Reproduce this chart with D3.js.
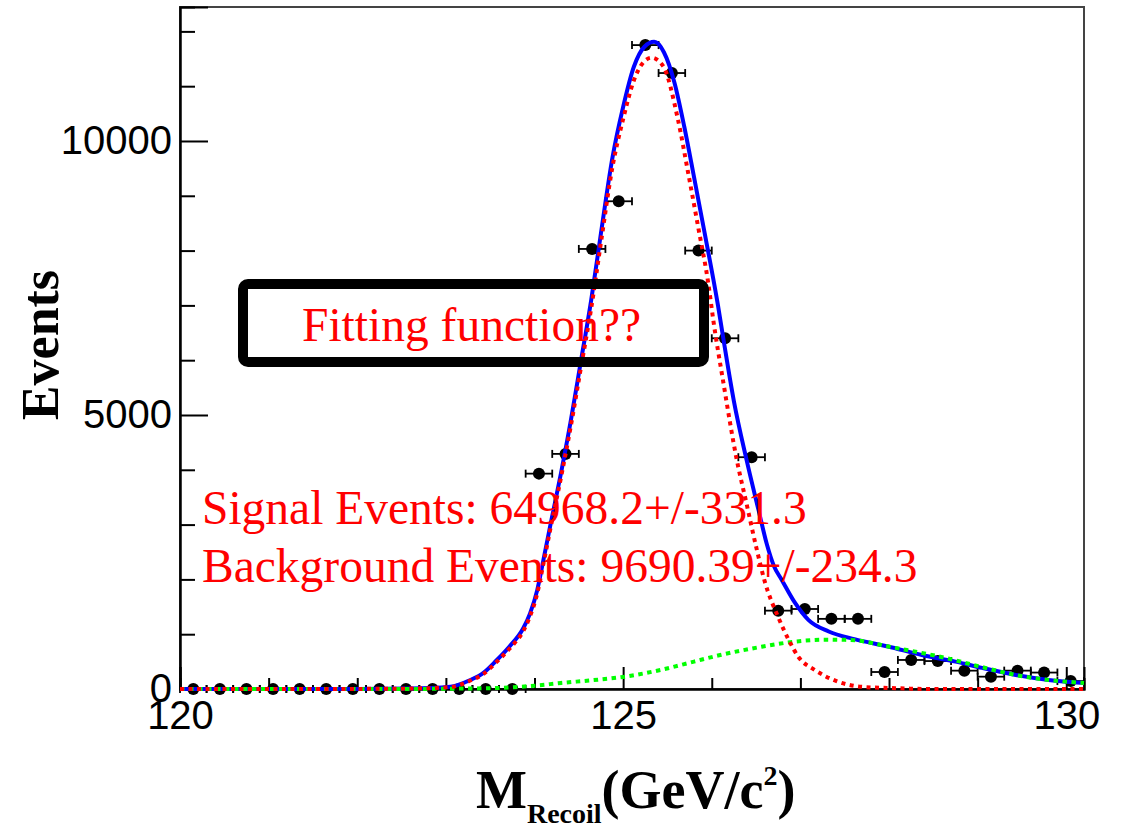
<!DOCTYPE html>
<html lang="en">
<head>
<meta charset="utf-8">
<title>Recoil mass fit</title>
<script src="https://d3js.org/d3.v7.min.js"></script>
<style>
  body { margin: 0; background: #fff; }
</style>
</head>
<body>
<script>
// histogram: bin centres (GeV), half bin width, counts
var binCenters = [120.15, 120.45, 120.75, 121.05, 121.35, 121.65, 121.95, 122.25, 122.55, 122.85,
                  123.15, 123.45, 123.75, 124.05, 124.35, 124.65, 124.95, 125.25, 125.55, 125.85,
                  126.15, 126.45, 126.75, 127.05, 127.35, 127.65, 127.95, 128.25, 128.55, 128.85,
                  129.15, 129.45, 129.75, 130.05];
var binHalfWidth = 0.15;
var counts = [0, 0, 0, 0, 0, 0, 0, 0, 0, 0,
              0, 0, 0, 3930, 4290, 8030, 8900, 11750, 11240, 8000,
              6400, 4230, 1430, 1460, 1280, 1280, 310, 530, 510, 335,
              225, 335, 300, 145];

// fit curves
var totalX = [120, 121, 122, 122.6, 123.05, 123.27, 123.42, 123.57, 123.72, 123.87, 123.95, 124.03, 124.1, 124.18,
              124.3, 124.41, 124.52, 124.64, 124.75, 124.88, 125.0, 125.12, 125.24, 125.35, 125.46, 125.58,
              125.69, 125.8, 125.92, 126.07, 126.13, 126.25, 126.39, 126.53, 126.62, 126.7, 126.79, 126.94,
              127.09, 127.32, 127.61, 127.99, 128.37, 128.75, 129.05, 129.43, 129.8, 130.2];
var totalY = [0, 0, 2, 8, 40, 160, 290, 520, 780, 1100, 1380, 1800, 2350, 3000,
              3950, 4900, 5950, 7100, 8320, 9700, 10620, 11350, 11720, 11810, 11620, 11060,
              10260, 9340, 8320, 7000, 6400, 5250, 4200, 3250, 2650, 2250, 1990, 1570,
              1260, 1050, 910, 775, 620, 500, 385, 255, 165, 110];

var signalX = [120, 122, 122.6, 123.05, 123.27, 123.42, 123.57, 123.72, 123.87, 123.95, 124.03, 124.1, 124.18,
               124.3, 124.41, 124.52, 124.64, 124.75, 124.88, 125.0, 125.12, 125.22, 125.32, 125.45, 125.62,
               125.73, 125.85, 125.96, 126.02, 126.13, 126.28, 126.39, 126.5, 126.6, 126.75, 126.87, 126.98,
               127.16, 127.43, 127.69, 128.07, 128.5, 130.2];
var signalY = [0, 2, 8, 35, 150, 270, 490, 740, 1050, 1330, 1740, 2280, 2930,
               3870, 4800, 5830, 6950, 8150, 9530, 10400, 11100, 11420, 11520, 11370, 10380,
               9450, 8400, 7410, 6700, 5600, 4200, 3400, 2600, 1950, 1310, 890, 580,
               350, 130, 40, 15, 0, 0];

var bkgX = [120, 122.5, 123.0, 123.6, 124.0, 124.3, 124.65, 125.0, 125.43, 125.8, 126.07, 126.56, 126.94,
            127.3, 127.55, 128.07, 128.63, 129.05, 129.43, 129.8, 130.2];
var bkgY = [0, 0, 5, 20, 60, 110, 160, 220, 350, 500, 610, 770, 865,
            900, 895, 750, 570, 400, 255, 165, 110];

// ticks
var xMajorTicks = [120, 125, 130];
var xMinorTicks = [121, 122, 123, 124, 126, 127, 128, 129];
var yMajorTicks = [0, 5000, 10000];
var yMinorTicks = [1000, 2000, 3000, 4000, 6000, 7000, 8000, 9000, 11000, 12000];

var width = 1124, height = 825;
var margin = { top: 7, right: 40, bottom: 136, left: 180 };
var w = width - margin.left - margin.right;
var h = height - margin.top - margin.bottom;

var x = d3.scaleLinear().domain([120, 130.2]).range([0, w]);
var y = d3.scaleLinear().domain([0, 12445]).range([h, 0]);

var svg = d3.select("body").append("svg")
    .attr("width", width)
    .attr("height", height);

var g = svg.append("g")
    .attr("transform", "translate(" + margin.left + "," + margin.top + ")");

// frame
g.append("rect")
    .attr("width", w).attr("height", h)
    .attr("fill", "none")
    .attr("stroke", "#444")
    .attr("stroke-width", 2);

// axes (ticks point inwards, ROOT style)
function styleAxis(sel) {
  sel.select(".domain").attr("stroke", "#000").attr("stroke-width", 2);
  sel.selectAll(".tick line").attr("stroke", "#000").attr("stroke-width", 2);
  sel.selectAll("text")
     .attr("font-family", "'Liberation Sans', Arial, sans-serif")
     .attr("font-size", "40px")
     .attr("fill", "#000");
}

g.append("g")
    .attr("transform", "translate(0," + h + ")")
    .call(d3.axisBottom(x).tickValues(xMinorTicks).tickSize(-11).tickFormat(""))
    .call(styleAxis);
g.append("g")
    .attr("transform", "translate(0," + h + ")")
    .call(d3.axisBottom(x).tickValues(xMajorTicks).tickSize(-22).tickPadding(12).tickFormat(d3.format("d")))
    .call(styleAxis);

g.append("g")
    .call(d3.axisLeft(y).tickValues(yMinorTicks).tickSize(-15).tickFormat(""))
    .call(styleAxis);
g.append("g")
    .call(d3.axisLeft(y).tickValues(yMajorTicks).tickSize(-28).tickPadding(8).tickFormat(d3.format("d")))
    .call(styleAxis);

// axis titles
svg.append("text")
    .attr("transform", "translate(58,345) rotate(-90)")
    .attr("text-anchor", "middle")
    .attr("font-family", "'Liberation Serif', 'Times New Roman', serif")
    .attr("font-weight", "bold")
    .attr("font-size", "52px")
    .text("Events");

var xt = svg.append("text")
    .attr("x", 476).attr("y", 808)
    .attr("font-family", "'Liberation Serif', 'Times New Roman', serif")
    .attr("font-weight", "bold")
    .attr("font-size", "54px");
xt.append("tspan").text("M");
xt.append("tspan").attr("font-size", "28px").attr("dy", 15).text("Recoil");
xt.append("tspan").attr("dy", -15).text("(GeV/c");
xt.append("tspan").attr("font-size", "28px").attr("dy", -23).text("2");
xt.append("tspan").attr("dy", 23).text(")");

// annotation box and fit results
svg.append("rect")
    .attr("x", 243).attr("y", 284)
    .attr("width", 461).attr("height", 78)
    .attr("rx", 5)
    .attr("fill", "none")
    .attr("stroke", "#000")
    .attr("stroke-width", 10);

var serif = "'Liberation Serif', 'Times New Roman', serif";
svg.append("text")
    .attr("x", 302).attr("y", 341)
    .attr("font-family", serif).attr("font-size", "47.5px").attr("fill", "#ff0000")
    .text("Fitting function??");
svg.append("text")
    .attr("x", 202).attr("y", 524)
    .attr("font-family", serif).attr("font-size", "47.5px").attr("fill", "#ff0000")
    .text("Signal Events: 64968.2+/-331.3");
svg.append("text")
    .attr("x", 202).attr("y", 582)
    .attr("font-family", serif).attr("font-size", "47.5px").attr("fill", "#ff0000")
    .text("Background Events: 9690.39+/-234.3");

// data points with horizontal error bars
var pts = g.append("g").selectAll("g")
    .data(binCenters.map(function(c, i) { return { x: c, n: counts[i] }; }))
    .enter().append("g");

pts.append("line")
    .attr("x1", function(d) { return x(d.x - binHalfWidth); })
    .attr("x2", function(d) { return x(d.x + binHalfWidth); })
    .attr("y1", function(d) { return y(d.n); })
    .attr("y2", function(d) { return y(d.n); })
    .attr("stroke", "#000").attr("stroke-width", 1.8);
[-1, 1].forEach(function(s) {
  pts.append("line")
      .attr("x1", function(d) { return x(d.x + s * binHalfWidth); })
      .attr("x2", function(d) { return x(d.x + s * binHalfWidth); })
      .attr("y1", function(d) { return y(d.n) - 4; })
      .attr("y2", function(d) { return y(d.n) + 4; })
      .attr("stroke", "#000").attr("stroke-width", 1.8);
});
pts.append("circle")
    .attr("cx", function(d) { return x(d.x); })
    .attr("cy", function(d) { return y(d.n); })
    .attr("r", 6)
    .attr("fill", "#000");

// fit curves
var line = d3.line()
    .x(function(d) { return x(d[0]); })
    .y(function(d) { return y(d[1]); })
    .curve(d3.curveMonotoneX);

g.append("path")
    .datum(d3.zip(totalX, totalY))
    .attr("d", line)
    .attr("fill", "none")
    .attr("stroke", "#0000ff")
    .attr("stroke-width", 4);

g.append("path")
    .datum(d3.zip(bkgX, bkgY))
    .attr("d", line)
    .attr("fill", "none")
    .attr("stroke", "#00ff00")
    .attr("stroke-width", 4)
    .attr("stroke-dasharray", "4.5,4.5");

g.append("path")
    .datum(d3.zip(signalX, signalY))
    .attr("d", line)
    .attr("fill", "none")
    .attr("stroke", "#ff0000")
    .attr("stroke-width", 4)
    .attr("stroke-dasharray", "4,4.5");
</script>
</body>
</html>
